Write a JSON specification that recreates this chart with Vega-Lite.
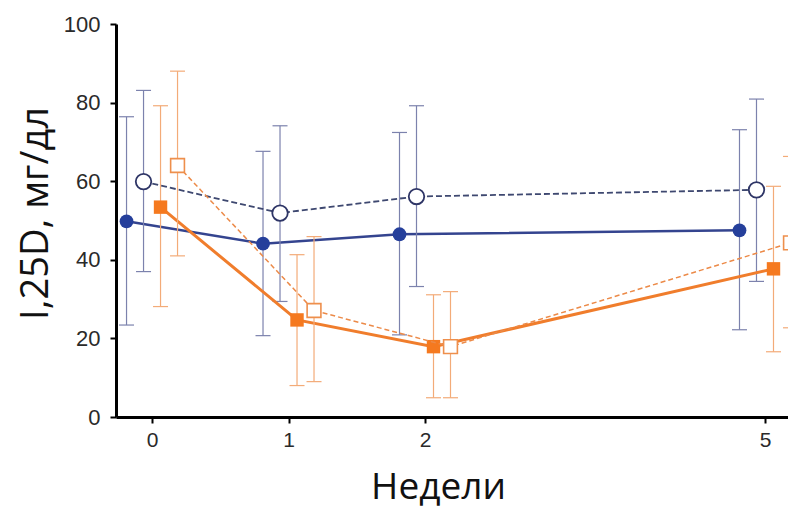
{
  "$schema": "https://vega.github.io/schema/vega-lite/v6.json",
  "width": 672,
  "height": 393,
  "autosize": "none",
  "padding": {"left": 116, "top": 24, "right": 0, "bottom": 93},
  "background": "white",
  "config": {"view": {"stroke": null}},
  "data": {
    "values": [
      {"week": 0, "group": "A", "mean": 49.8, "lo": 23.4, "hi": 76.4},
      {"week": 1, "group": "A", "mean": 44.1, "lo": 20.7, "hi": 67.6},
      {"week": 2, "group": "A", "mean": 46.5, "lo": 20.9, "hi": 72.4},
      {"week": 5, "group": "A", "mean": 47.5, "lo": 22.2, "hi": 73.1},
      {"week": 0, "group": "B", "mean": 59.9, "lo": 37.0, "hi": 83.1},
      {"week": 1, "group": "B", "mean": 51.9, "lo": 29.4, "hi": 74.1},
      {"week": 2, "group": "B", "mean": 56.1, "lo": 33.2, "hi": 79.2},
      {"week": 5, "group": "B", "mean": 57.8, "lo": 34.5, "hi": 80.9},
      {"week": 0, "group": "C", "mean": 53.4, "lo": 28.1, "hi": 79.2},
      {"week": 1, "group": "C", "mean": 24.7, "lo": 8.0, "hi": 41.3},
      {"week": 2, "group": "C", "mean": 17.9, "lo": 4.9, "hi": 31.1},
      {"week": 5, "group": "C", "mean": 37.7, "lo": 16.6, "hi": 58.7},
      {"week": 0, "group": "D", "mean": 64.0, "lo": 41.0, "hi": 88.0},
      {"week": 1, "group": "D", "mean": 27.1, "lo": 9.0, "hi": 45.9},
      {"week": 2, "group": "D", "mean": 17.9, "lo": 4.9, "hi": 31.9},
      {"week": 5, "group": "D", "mean": 44.3, "lo": 22.7, "hi": 66.3}
    ]
  },
  "layer": [
    {
      "mark": {"type": "point", "opacity": 0},
      "encoding": {
        "x": {
          "field": "week",
          "type": "quantitative",
          "scale": {"domain": [-0.264, 2, 5.203], "range": [0, 309, 672], "nice": false, "zero": false},
          "axis": {
            "values": [0, 1, 2, 5],
            "title": "Недели",
            "titleFont": "Open Sans",
            "titleFontSize": 37,
            "titleFontWeight": "normal",
            "titleColor": "#111111",
            "titleBaseline": "alphabetic",
            "titleX": 322,
            "titleY": 81,
            "labelFont": "Liberation Sans",
            "labelFontSize": 21,
            "labelColor": "#2a2a2a",
            "labelPadding": 6,
            "tickSize": 6,
            "tickWidth": 2,
            "tickColor": "#000000",
            "domainColor": "#000000",
            "domainWidth": 3,
            "grid": false
          }
        },
        "y": {
          "field": "mean",
          "type": "quantitative",
          "scale": {"domain": [0, 100], "nice": false},
          "axis": {
            "values": [0, 20, 40, 60, 80, 100],
            "title": "I,25D, мг/дл",
            "titleFont": "Open Sans",
            "titleFontSize": 38,
            "titleFontWeight": "normal",
            "titleColor": "#111111",
            "titleBaseline": "alphabetic",
            "titleX": -69,
            "titleY": 189,
            "labelFont": "Liberation Sans",
            "labelFontSize": 22,
            "labelColor": "#2a2a2a",
            "labelPadding": 10,
            "tickSize": 6,
            "tickWidth": 2,
            "tickColor": "#000000",
            "domainColor": "#000000",
            "domainWidth": 3,
            "grid": false
          }
        }
      }
    },
    {
      "transform": [{"filter": "datum.group === 'A'"}],
      "encoding": {
        "x": {"field": "week", "type": "quantitative", "scale": {"domain": [-0.264, 2, 5.203], "range": [-25.5, 283.5, 646.5], "nice": false, "zero": false}, "axis": null}
      },
      "layer": [
        {"mark": {"type": "rule", "color": "#7c82ad", "strokeWidth": 1.2}, "encoding": {"y": {"field": "lo", "type": "quantitative"}, "y2": {"field": "hi"}}},
        {"mark": {"type": "tick", "orient": "horizontal", "size": 15, "thickness": 1.2, "color": "#7c82ad", "opacity": 1}, "encoding": {"y": {"field": "lo", "type": "quantitative"}}},
        {"mark": {"type": "tick", "orient": "horizontal", "size": 15, "thickness": 1.2, "color": "#7c82ad", "opacity": 1}, "encoding": {"y": {"field": "hi", "type": "quantitative"}}},
        {"mark": {"type": "line", "color": "#34448f", "strokeWidth": 2.5}, "encoding": {"y": {"field": "mean", "type": "quantitative"}}},
        {"mark": {"type": "point", "shape": "circle", "filled": true, "size": 190, "color": "#253f9b", "opacity": 1}, "encoding": {"y": {"field": "mean", "type": "quantitative"}}}
      ]
    },
    {
      "transform": [{"filter": "datum.group === 'B'"}],
      "encoding": {
        "x": {"field": "week", "type": "quantitative", "scale": {"domain": [-0.264, 2, 5.203], "range": [-8.5, 300.5, 663.5], "nice": false, "zero": false}, "axis": null}
      },
      "layer": [
        {"mark": {"type": "rule", "color": "#7c82ad", "strokeWidth": 1.2}, "encoding": {"y": {"field": "lo", "type": "quantitative"}, "y2": {"field": "hi"}}},
        {"mark": {"type": "tick", "orient": "horizontal", "size": 15, "thickness": 1.2, "color": "#7c82ad", "opacity": 1}, "encoding": {"y": {"field": "lo", "type": "quantitative"}}},
        {"mark": {"type": "tick", "orient": "horizontal", "size": 15, "thickness": 1.2, "color": "#7c82ad", "opacity": 1}, "encoding": {"y": {"field": "hi", "type": "quantitative"}}},
        {"mark": {"type": "line", "color": "#3e4870", "strokeWidth": 1.8, "strokeDash": [6, 3]}, "encoding": {"y": {"field": "mean", "type": "quantitative"}}},
        {"mark": {"type": "point", "shape": "circle", "filled": false, "fill": "#ffffff", "fillOpacity": 1, "size": 240, "stroke": "#2e3566", "strokeWidth": 1.8, "opacity": 1}, "encoding": {"y": {"field": "mean", "type": "quantitative"}}}
      ]
    },
    {
      "transform": [{"filter": "datum.group === 'C'"}],
      "encoding": {
        "x": {"field": "week", "type": "quantitative", "scale": {"domain": [-0.264, 2, 5.203], "range": [8.5, 317.5, 680.5], "nice": false, "zero": false}, "axis": null}
      },
      "layer": [
        {"mark": {"type": "rule", "color": "#f3ab78", "strokeWidth": 1.2}, "encoding": {"y": {"field": "lo", "type": "quantitative"}, "y2": {"field": "hi"}}},
        {"mark": {"type": "tick", "orient": "horizontal", "size": 15, "thickness": 1.2, "color": "#f3ab78", "opacity": 1}, "encoding": {"y": {"field": "lo", "type": "quantitative"}}},
        {"mark": {"type": "tick", "orient": "horizontal", "size": 15, "thickness": 1.2, "color": "#f3ab78", "opacity": 1}, "encoding": {"y": {"field": "hi", "type": "quantitative"}}},
        {"mark": {"type": "line", "color": "#f07d2c", "strokeWidth": 3}, "encoding": {"y": {"field": "mean", "type": "quantitative"}}},
        {"mark": {"type": "point", "shape": "square", "filled": true, "size": 180, "color": "#f5791f", "opacity": 1}, "encoding": {"y": {"field": "mean", "type": "quantitative"}}}
      ]
    },
    {
      "transform": [{"filter": "datum.group === 'D'"}],
      "encoding": {
        "x": {"field": "week", "type": "quantitative", "scale": {"domain": [-0.264, 2, 5.203], "range": [25.5, 334.5, 697.5], "nice": false, "zero": false}, "axis": null}
      },
      "layer": [
        {"mark": {"type": "rule", "color": "#f3ab78", "strokeWidth": 1.2}, "encoding": {"y": {"field": "lo", "type": "quantitative"}, "y2": {"field": "hi"}}},
        {"mark": {"type": "tick", "orient": "horizontal", "size": 15, "thickness": 1.2, "color": "#f3ab78", "opacity": 1}, "encoding": {"y": {"field": "lo", "type": "quantitative"}}},
        {"mark": {"type": "tick", "orient": "horizontal", "size": 15, "thickness": 1.2, "color": "#f3ab78", "opacity": 1}, "encoding": {"y": {"field": "hi", "type": "quantitative"}}},
        {"mark": {"type": "line", "color": "#ec8a48", "strokeWidth": 1.5, "strokeDash": [5, 3]}, "encoding": {"y": {"field": "mean", "type": "quantitative"}}},
        {"mark": {"type": "point", "shape": "square", "filled": false, "fill": "#ffffff", "fillOpacity": 1, "size": 190, "stroke": "#ee8f4c", "strokeWidth": 1.6, "opacity": 1}, "encoding": {"y": {"field": "mean", "type": "quantitative"}}}
      ]
    }
  ],
  "resolve": {"scale": {"x": "independent"}}
}
